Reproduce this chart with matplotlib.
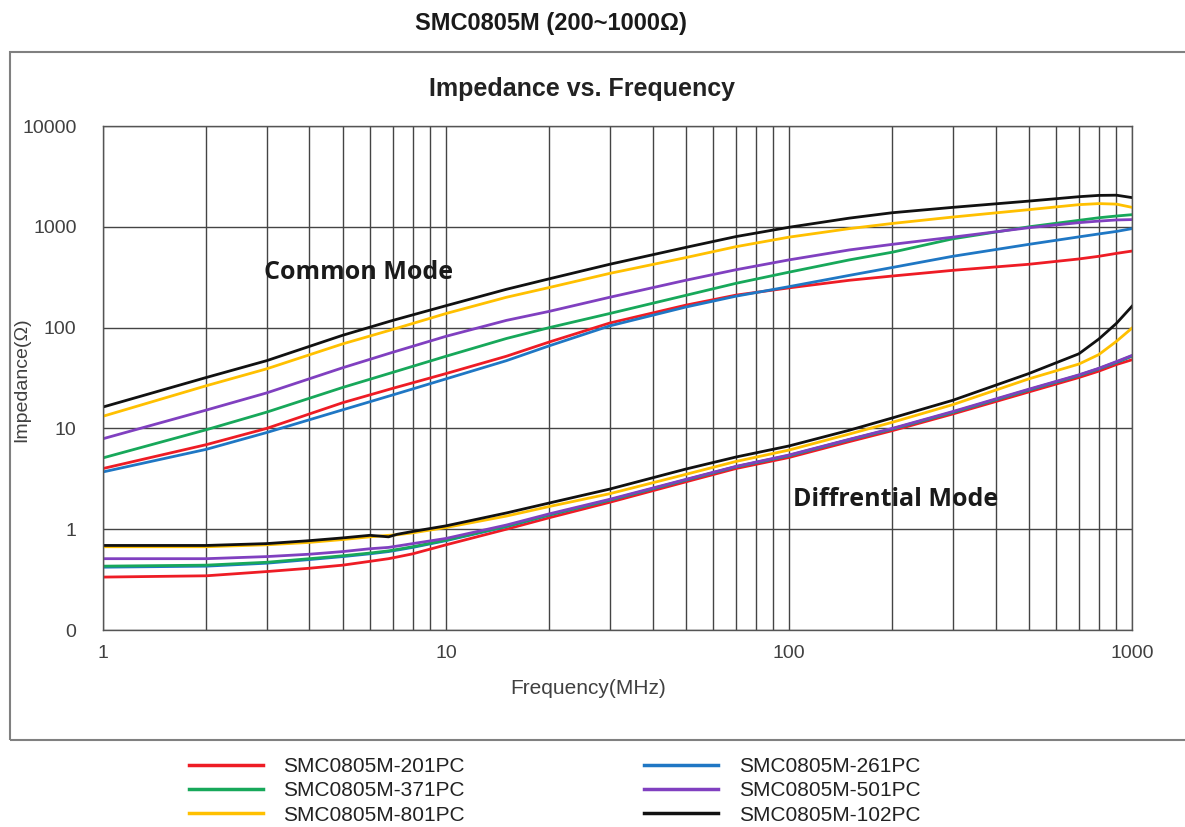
import matplotlib
matplotlib.use('Agg')
import matplotlib.pyplot as plt
from matplotlib.patches import Rectangle

plt.rcParams['font.family'] = ['Liberation Sans', 'DejaVu Sans']

# common mode curves, frequency in MHz
CM_FREQ = [1, 2, 3, 5, 7, 10, 15, 20, 30, 50, 70, 100, 150, 200, 300, 500, 700, 800, 900, 1000]
CM_201 = [4.0, 6.9, 10, 18, 25, 35, 52, 72, 111, 167, 210, 248, 295, 325, 370, 425, 480, 510, 545, 575]
CM_261 = [3.7, 6.2, 9.1, 15.3, 21.5, 31, 47, 66, 104, 160, 205, 255, 330, 395, 510, 670, 795, 850, 900, 960]
CM_371 = [5.1, 9.7, 14.5, 25.5, 36, 52, 78, 100, 138, 209, 275, 355, 470, 560, 760, 1000, 1160, 1230, 1280, 1320]
CM_501 = [7.9, 15.2, 22.5, 40, 57, 82, 118, 145, 200, 295, 375, 470, 590, 670, 790, 980, 1100, 1140, 1170, 1180]
CM_801 = [13.2, 26.5, 39, 69, 96, 138, 200, 250, 345, 495, 635, 790, 960, 1080, 1250, 1480, 1660, 1700, 1680, 1560]
CM_102 = [16.3, 32, 47, 84, 118, 165, 240, 305, 425, 625, 800, 990, 1220, 1380, 1560, 1800, 1990, 2050, 2060, 1950]

# differential mode curves
DM_FREQ = [1, 2, 3, 4, 5, 6, 6.8, 7.2, 8, 10, 15, 20, 30, 50, 70, 100, 150, 200, 300, 500, 700, 800, 900, 1000]
DM_201 = [0.335, 0.345, 0.38, 0.41, 0.44, 0.48, 0.51, 0.53, 0.57, 0.70, 1.0, 1.3, 1.85, 2.95, 4.0, 5.15, 7.4, 9.5, 13.9, 23, 32, 37, 43, 48]
DM_261 = [0.42, 0.43, 0.46, 0.50, 0.535, 0.57, 0.60, 0.62, 0.66, 0.77, 1.06, 1.38, 1.94, 3.07, 4.15, 5.35, 7.7, 9.85, 14.4, 24, 33.4, 38.9, 45, 52]
DM_371 = [0.43, 0.44, 0.47, 0.51, 0.545, 0.58, 0.61, 0.63, 0.67, 0.78, 1.07, 1.39, 1.95, 3.09, 4.17, 5.4, 7.75, 9.9, 14.5, 24.2, 33.7, 39.2, 45.5, 52.5]
DM_501 = [0.51, 0.51, 0.535, 0.565, 0.60, 0.64, 0.66, 0.68, 0.72, 0.81, 1.1, 1.42, 1.98, 3.12, 4.2, 5.45, 7.8, 10, 14.7, 24.5, 34, 39.5, 46, 53]
DM_801 = [0.67, 0.67, 0.70, 0.74, 0.79, 0.84, 0.87, 0.88, 0.92, 1.04, 1.35, 1.68, 2.25, 3.5, 4.7, 6.1, 8.8, 11.5, 17.2, 31, 43.5, 54, 73, 99]
DM_102 = [0.69, 0.69, 0.72, 0.77, 0.82, 0.87, 0.84, 0.89, 0.95, 1.08, 1.45, 1.82, 2.5, 3.95, 5.2, 6.7, 9.6, 12.7, 19, 35, 55, 77, 110, 163]

PARTS = ['SMC0805M-201PC', 'SMC0805M-261PC', 'SMC0805M-371PC',
         'SMC0805M-501PC', 'SMC0805M-801PC', 'SMC0805M-102PC']
COLORS = ['#ee1c25', '#1f77c4', '#17a85a', '#8040c0', '#ffc000', '#111111']

Y_TICKS = [0.1, 1, 10, 100, 1000, 10000]
Y_TICK_LABELS = ['0', '1', '10', '100', '1000', '10000']
X_TICKS = [1, 10, 100, 1000]
X_TICK_LABELS = ['1', '10', '100', '1000']


def main():
    fig = plt.figure(figsize=(11.85, 8.27), dpi=100)
    ax = fig.add_axes([0.0869, 0.2382, 0.8684, 0.6094])

    cm = [CM_201, CM_261, CM_371, CM_501, CM_801, CM_102]
    dm = [DM_201, DM_261, DM_371, DM_501, DM_801, DM_102]
    handles = []
    for name, color, c, d in zip(PARTS, COLORS, cm, dm):
        line, = ax.plot(CM_FREQ, c, color=color, lw=2, label=name)
        ax.plot(DM_FREQ, d, color=color, lw=2)
        handles.append(line)

    ax.set_xscale('log')
    ax.set_yscale('log')
    ax.set_xlim(1, 1000)
    ax.set_ylim(0.1, 10000)
    ax.set_xticks(X_TICKS)
    ax.set_xticklabels(X_TICK_LABELS)
    ax.set_yticks(Y_TICKS)
    ax.set_yticklabels(Y_TICK_LABELS)
    ax.minorticks_on()
    ax.yaxis.set_minor_locator(matplotlib.ticker.NullLocator())
    ax.tick_params(which='both', length=0, labelsize=14, colors='#404040')
    ax.tick_params(axis='y', pad=19)
    ax.tick_params(axis='x', pad=11)
    ax.grid(which='major', axis='both', color='#444444', lw=1)
    ax.grid(which='minor', axis='x', color='#444444', lw=1)
    ax.set_axisbelow(True)
    for s in ax.spines.values():
        s.set_color('#555555')
        s.set_linewidth(1)

    ax.set_xlabel('Frequency(MHz)', fontsize=15, color='#404040')
    ax.set_ylabel('Impedance(Ω)', fontsize=14, color='#404040')
    ax.xaxis.set_label_coords(0.471, -0.097)
    ax.yaxis.set_label_coords(-0.071, 0.496)

    ax.text(2.95, 350, 'Common Mode', fontsize=18, fontweight='bold',
            family=['Open Sans', 'DejaVu Sans'], color='#1a1a1a', va='center')
    ax.text(103, 1.98, 'Diffrential Mode', fontsize=18, fontweight='bold',
            family=['Open Sans', 'DejaVu Sans'], color='#1a1a1a', va='center')

    fig.text(0.465, 0.9637, 'SMC0805M (200~1000Ω)', fontsize=17, fontweight='bold',
             ha='center', va='baseline', color='#1a1a1a')
    fig.text(0.491, 0.884, 'Impedance vs. Frequency', fontsize=18, fontweight='bold',
             ha='center', va='baseline', color='#222222')

    fig.patches.append(Rectangle((0.0084, 0.1052), 0.995, 0.832, transform=fig.transFigure,
                                 fill=False, edgecolor='#808080', lw=1.5))

    order = [0, 2, 4, 1, 3, 5]
    leg = fig.legend([handles[i] for i in order], [PARTS[i] for i in order],
                     loc='center', bbox_to_anchor=(0.468, 0.0437), ncol=2,
                     frameon=False, fontsize=15, handlelength=3.55, handletextpad=1.0,
                     columnspacing=8.6, labelspacing=0.25)
    for h in leg.get_lines():
        h.set_linewidth(2.5)
    for t in leg.get_texts():
        t.set_color('#222222')

    fig.savefig('out.png', dpi=100)


if __name__ == '__main__':
    main()
